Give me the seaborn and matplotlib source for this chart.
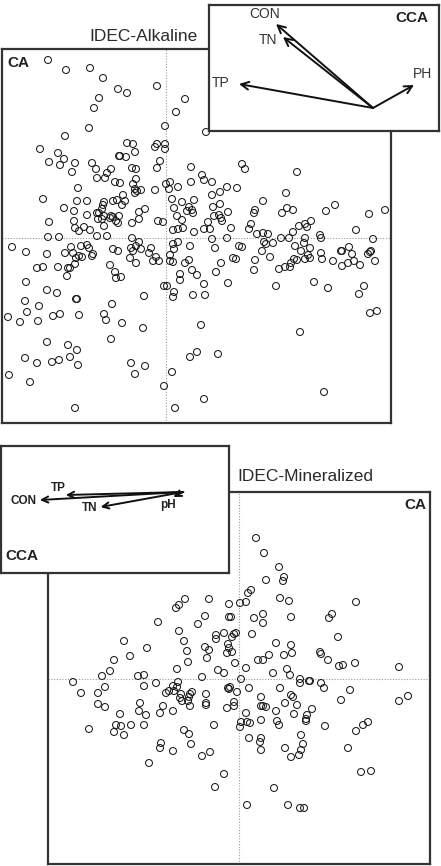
import matplotlib
matplotlib.use("Agg")
import matplotlib.pyplot as plt
import numpy as np
import pandas as pd
import seaborn as sns

sns.set_style("white")
plt.rcParams["font.family"] = ["Liberation Sans", "DejaVu Sans"]

# CA site scores (x100) - IDEC-Alkaline
alk_ca1 = [
    -118, -100, -76, -63, -48, -39, -9, -67, -72, 19, 10, -1, -77, -101, -126, -108, -102, -117, -106, -91,
    -94, -74, -70, -69, -59, -55, -61, -39, -33, -31, -47, -46, -40, -11, -9, -1, -1, -6, -9, -34,
    -30, -51, -46, -33, -30, -31, -29, -25, -31, -11, 0, 4, 3, 12, 25, 25, -88, -123, -89, -79,
    -102, -92, -63, -62, -64, -53, -49, -43, -41, -44, -21, -27, -79, -69, -67, -62, -55, -53, -47, -68,
    -64, -117, -92, -91, -87, -82, -76, -62, -56, -50, -48, -34, -27, -8, -3, 6, 16, 8, 11, 16,
    28, 23, 26, 27, 21, 7, 12, 17, 28, -118, -107, -69, -59, -34,
    40, 76, 79, 36, 38, 46, 131, 61, 71, 46, 54, 120, 47, 54, 97, 89, 88, 116, 121, 127,
    62, 48, 53, 55, 56, 42, 169, 160, 203, 219, 38, 44, 65, 85, 83, 91, 97, 102, 127, 133,
    139, 145, 141, 190, 154, 155,
    46, 61, 49, 73, 76, 67, 70, 55, 50, 31, 38, 39, 62, 89, 88, 96, 98, 100, 107, 104,
    115, 123, 129, 135, 138, 139, 144, 142, 144, 139, 113, 119, 124, 125, 128, 131, 110, 148, 162, 155,
    156, 167, 175, 176, 183, 186, 188, 194, 182, 176, 207, 204, 205, 202, 209, 198, 193, 204, 211, 134,
    35, 31, 52, 38, 158,
    -154, -140, -119, -101, -95, -93, -90, -87, -91, -85, -79, -77, -84, -74, -73, -53, -48, -56, -51, -50,
    -45, -35, -33, -30, -27, -25, -36, -30, -15, -17, -10, -13, -7, -129, -123, -108, -98, -96, -99, -140,
    -119, -109, -90, -89, -141, -127, -139, -158, -146, -128, -113, -106, -87, -54, -62, -60, -44, -22, -23, -55,
    -119, -98, -89, -141, -129, -114, -107, -96, -88, -157, -136, -35, -21, -31, -91, -2, 6, 9, 24, 7,
    8, 12, 4, 4, 7, 14, 14, -2, 1, 8, 7, 24, 23, 19, 26, 27,
]
alk_ca2 = [
    178, 168, 170, 160, 149, 145, 152, 140, 130, 139, 126, 112, 110, 102, 89, 85, 79, 76, 73, 75,
    66, 75, 69, 60, 65, 69, 60, 95, 94, 86, 82, 82, 81, 91, 94, 94, 89, 77, 70, 70,
    69, 56, 55, 54, 59, 49, 47, 48, 45, 48, 54, 56, 49, 51, 71, 56, 50, 39, 37, 37,
    30, 27, 33, 36, 29, 37, 38, 43, 37, 33, 29, 26, 23, 25, 25, 22, 22, 21, 22, 19,
    19, 16, 17, 10, 7, 11, 8, 12, 20, 17, 15, 15, 19, 17, 16, 39, 36, 30, 22, 18,
    38, 31, 28, 25, 27, 8, 9, 10, 6, 1, 1, 2, 2, 0,
    106, 74, 69, 63, 58, 56, 66, 51, 50, 43, 46, 45, 31, 34, 37, 28, 25, 25, 30, 28,
    26, 22, 23, 20, 17, 16, 33, 27, 24, 28, 9, 9, 10, 14, 9, 4, 5, 4, 6, 12,
    14, 17, 11, 8, 3, 0,
    -1, 0, -10, -8, -9, -20, -21, -25, -34, -37, -46, -57, -45, -22, -32, -13, -4, -6, -5, -19,
    0, 0, -8, -13, -5, 0, -10, -17, -20, -21, -31, -29, -29, -25, -21, -22, -48, -44, -50, -15,
    -21, -23, -13, -13, -9, -16, -23, -27, -25, -28, -1, -14, -13, -16, -23, -48, -56, -75, -73, -94,
    -87, -114, -116, -161, -154,
    -9, -14, -16, -15, -9, -15, -20, -18, -26, -8, -7, -10, -19, -18, -16, -11, -13, -27, -34, -40,
    -39, -10, -13, -8, -4, -11, -20, -25, -10, -15, -19, -23, -23, -30, -29, -29, -30, -30, -38, -44,
    -52, -55, -61, -61, -63, -68, -74, -79, -84, -83, -78, -76, -77, -66, -76, -82, -85, -58, -90, -101,
    -104, -107, -112, -120, -125, -124, -122, -119, -127, -137, -144, -125, -128, -136, -170, -148, -134, -170, -119, -6,
    -11, -4, -17, -23, -24, -36, -42, -48, -48, -54, -59, -8, -22, -25, -32, -57,
]

# CA site scores (x100) - IDEC-Mineralized
min_ca1 = [
    -54, -60, -63, -30, -10, -34, -10, -8, -41, -81, -60, -23, -23, -15, -7, -5, -3, -55, -115, -34,
    -30, -11, -10, -12, -7, -52, -92, -109, -32, -51, -125, -4, -62, -21, -15, -129, -137, -101, -95, -37,
    2, -166, -83, -61, -62, -66, -65, -70, -73, -134, -95, -158, -141, -58, -59, -57, -51, -49, -47, -50,
    -33, -11, -9, -10, -2, -141, -134, -99, -76, -66, -49, -33, -33, -5, -5, -12, -119, -100, -93, -79,
    -123, -118, -108, -95, -125, -115, -150, -55, -50, -25, -78, -79, -66, -48, -37, -29, -90, -15, -24,
    17, 25, 40, 27, 45, 44, 12, 9, 1, 7, 41, 50, 117, 15, 24, 24, 52, 90, 93, 13,
    99, 37, 52, 30, 45, 53, 81, 82, 89, 19, 24, 100, 104, 116, 160, 7, 34, 48, 51, 61,
    61, 70, 71, 82, 85, 41, 10, 111, 102, 160, 169, 22, 52, 54, 46, 58, 22, 24, 27, 73,
    37, 7, 55, 68, 67, 67, 22, 38, 40, 2, 8, 11, 1, 86, 129, 124, 117, 10, 22, 21,
    22, 62, 64, 62, 60, 46, 52, 109, 122, 132, 35, 8, 49, 61, 65,
]
min_ca2 = [
    80, 74, 71, 80, 75, 63, 62, 62, 55, 57, 48, 44, 40, 46, 42, 45, 46, 38, 38, 32,
    29, 35, 31, 26, 27, 28, 31, 23, 21, 17, 19, 16, 10, 9, 6, 8, 3, 3, 4, 2,
    0, -3, -4, -3, -8, -7, -12, -12, -14, -8, -7, -14, -14, -15, -19, -22, -22, -15, -13, -18,
    -15, -9, -8, -10, -13, -25, -28, -24, -27, -32, -27, -24, -26, -23, -27, -29, -35, -32, -36, -34,
    -46, -47, -46, -46, -53, -56, -50, -51, -55, -46, -64, -69, -72, -65, -77, -73, -84, -95, -108,
    141, 126, 112, 99, 102, 98, 89, 86, 76, 77, 81, 78, 77, 61, 65, 56, 62, 61, 65, 45,
    42, 36, 34, 24, 24, 26, 27, 25, 19, 19, 19, 13, 14, 16, 12, 11, 6, 10, 4, 0,
    -4, -2, -2, -4, -9, -9, -9, -11, -21, -22, -17, -18, -16, -18, -24, -26, -27, -27, -28, -30,
    -32, -34, -35, -36, -40, -42, -41, -42, -46, -43, -43, -44, -48, -47, -43, -46, -52, -59, -59, -63,
    -71, -56, -65, -71, -76, -69, -78, -69, -93, -92, -109, -126, -126, -129, -129,
]

# CCA biplot arrows (x100)
alk_vars = ["CON", "TN", "TP", "PH"]
alk_cca1 = [-97, -90, -134, 41]
alk_cca2 = [84, 71, 24, 23]

min_vars = ["CON", "TP", "TN", "pH"]
min_cca1 = [-144, -118, -83, -10]
min_cca2 = [-8, -3, -15, -5]

W, H = 441, 866
fig = plt.figure(figsize=(W / 100, H / 100), dpi=100)

FRAME = "#333333"
DOT = "#9a9a9a"


def frame(ax, lw=1.6):
    ax.set_xticks([])
    ax.set_yticks([])
    ax.set_xlabel("")
    ax.set_ylabel("")
    for sp in ax.spines.values():
        sp.set_visible(True)
        sp.set_linewidth(lw)
        sp.set_color(FRAME)


def ca_panel(rect, ca1, ca2, xlim, ylim):
    ax = fig.add_axes(rect)
    df = pd.DataFrame({"CA1": np.array(ca1) / 100, "CA2": np.array(ca2) / 100})
    ax.axhline(0, color=DOT, lw=0.8, ls=(0, (1, 1.5)), zorder=0)
    ax.axvline(0, color=DOT, lw=0.8, ls=(0, (1, 1.5)), zorder=0)
    sns.scatterplot(data=df, x="CA1", y="CA2", ax=ax, s=25, facecolors="none",
                    edgecolor="#1a1a1a", linewidth=0.75, zorder=2)
    ax.set_xlim(xlim)
    ax.set_ylim(ylim)
    frame(ax)
    return ax


def cca_inset(rect, cca1, cca2, names, xlim, ylim, offsets, bold):
    ax = fig.add_axes(rect)
    ax.set_zorder(5)
    ax.set_facecolor("white")
    ax.set_xlim(xlim)
    ax.set_ylim(ylim)
    head = "->,head_length=0.45,head_width=0.22" if bold else "->,head_length=0.55,head_width=0.28"
    for x, y, name, off in zip(cca1, cca2, names, offsets):
        tip = (x / 100, y / 100)
        ax.annotate("", xy=tip, xytext=(0, 0),
                    arrowprops=dict(arrowstyle=head, lw=1.4, color="#111111",
                                    shrinkA=0, shrinkB=0))
        ax.annotate(name, xy=tip, xytext=off, textcoords="offset points",
                    ha="center", va="center",
                    fontsize=8.5 if bold else 10, color="#222222" if bold else "#333333",
                    fontweight="bold" if bold else "normal")
    frame(ax)
    return ax


# top panel
ax1 = ca_panel([2 / W, 1 - 423 / H, 389 / W, 374 / H], alk_ca1, alk_ca2,
               (-1.64, 2.25), (-1.85, 1.89))
ax1.text(0.041, 0.963, "CA", transform=ax1.transAxes, ha="center", va="center",
         fontsize=11, fontweight="bold", color="#222222")
in1 = cca_inset([209 / W, 1 - 131 / H, 230 / W, 126 / H], alk_cca1, alk_cca2, alk_vars,
                (-1.64, 0.66), (-0.23, 1.03),
                [(-8, 7), (-11, -2), (-13, 1), (6, 8)], False)
in1.text(0.883, 0.897, "CCA", transform=in1.transAxes, ha="center", va="center",
         fontsize=11, fontweight="bold", color="#222222")
fig.text(198 / W, 1 - 41 / H, "IDEC-Alkaline", ha="right", va="baseline",
         fontsize=12.5, color="#2a2a2a")

# bottom panel
ax2 = ca_panel([48 / W, 1 - 864 / H, 382 / W, 372 / H], min_ca1, min_ca2,
               (-1.91, 1.91), (-1.85, 1.87))
ax2.text(0.961, 0.965, "CA", transform=ax2.transAxes, ha="center", va="center",
         fontsize=11, fontweight="bold", color="#222222")
in2 = cca_inset([1 / W, 1 - 573 / H, 228 / W, 127 / H], min_cca1, min_cca2, min_vars,
                (-1.83, 0.46), (-0.81, 0.46),
                [(-12, -1), (-5, 5), (-8, -1), (-4, -6)], True)
in2.text(0.092, 0.134, "CCA", transform=in2.transAxes, ha="center", va="center",
         fontsize=11, fontweight="bold", color="#222222")
fig.text(237 / W, 1 - 477 / H, "IDEC-Mineralized", ha="left", va="center",
         fontsize=12.5, color="#2a2a2a")

fig.savefig("out.png", dpi=100)
